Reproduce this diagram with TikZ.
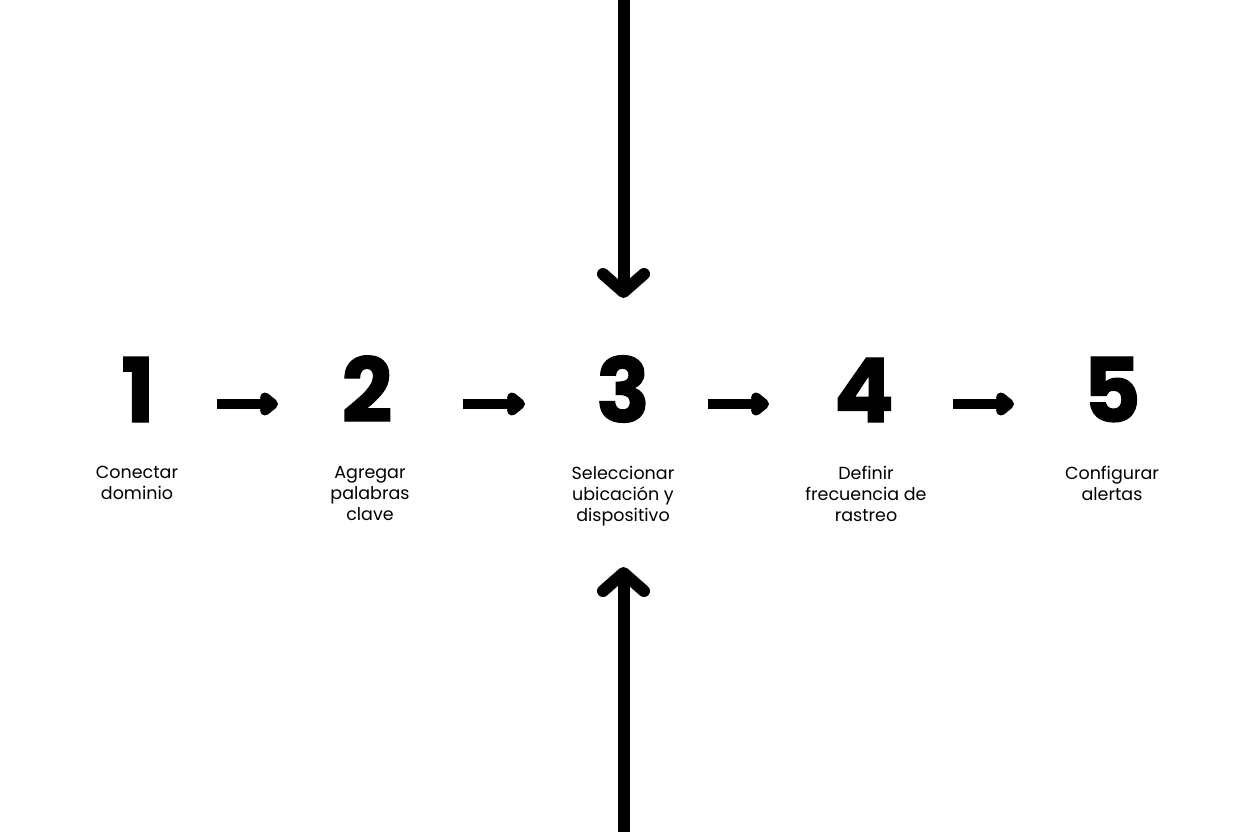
\documentclass[tikz,border=0pt]{standalone}
\usepackage{fontspec}
\setmainfont{Poppins}
\newfontfamily\numfont{Poppins Bold}[FakeBold=1.3]
\usetikzlibrary{arrows.meta}
\tikzset{
  num/.style={font=\fontsize{89}{89}\selectfont\numfont, inner sep=0pt, anchor=base},
  lbl/.style={font=\fontsize{17.5}{21}\selectfont, align=center, anchor=north, inner sep=0pt},
  harrow/.style={line width=10pt, -{Straight Barb[length=8pt, width=13pt, round]}},
  varrow/.style={line width=12pt, -{Straight Barb[length=18pt, width=41pt, round]}},
}
\begin{document}
\begin{tikzpicture}[x=1pt, y=-1pt]
\useasboundingbox[fill=white] (0,0) rectangle (1248,832);
\node[num] (n1) at (138,422) {1};
\node[num] (n2) at (367,422) {2};
\node[num] (n3) at (623,422) {3};
\node[num] (n4) at (864,422) {4};
\node[num] (n5) at (1112,422) {5};
\node[lbl] (l1) at (137,466) {Conectar\\dominio};
\node[lbl] (l2) at (370,466) {Agregar\\palabras\\clave};
\node[lbl] (l3) at (623,466) {Seleccionar\\ubicación y\\dispositivo};
\node[lbl] (l4) at (866,466) {Definir\\frecuencia de\\rastreo};
\node[lbl] (l5) at (1112,466) {Configurar\\alertas};
\coordinate (top) at (623.5,-5);
\coordinate (bot) at (623.5,837);
\draw[harrow] ([shift={(79,-18)}]n1.base) -- ([shift={(-89,-18)}]n2.base);
\draw[harrow] ([shift={(96,-18)}]n2.base) -- ([shift={(-98,-18)}]n3.base);
\draw[harrow] ([shift={(85,-18)}]n3.base) -- ([shift={(-95,-18)}]n4.base);
\draw[harrow] ([shift={(89,-18)}]n4.base) -- ([shift={(-98,-18)}]n5.base);
\draw[varrow] (top) -- ([shift={(0.5,-124)}]n3.base);
\draw[varrow] (bot) -- ([shift={(0.5,145)}]n3.base);
\end{tikzpicture}
\end{document}
